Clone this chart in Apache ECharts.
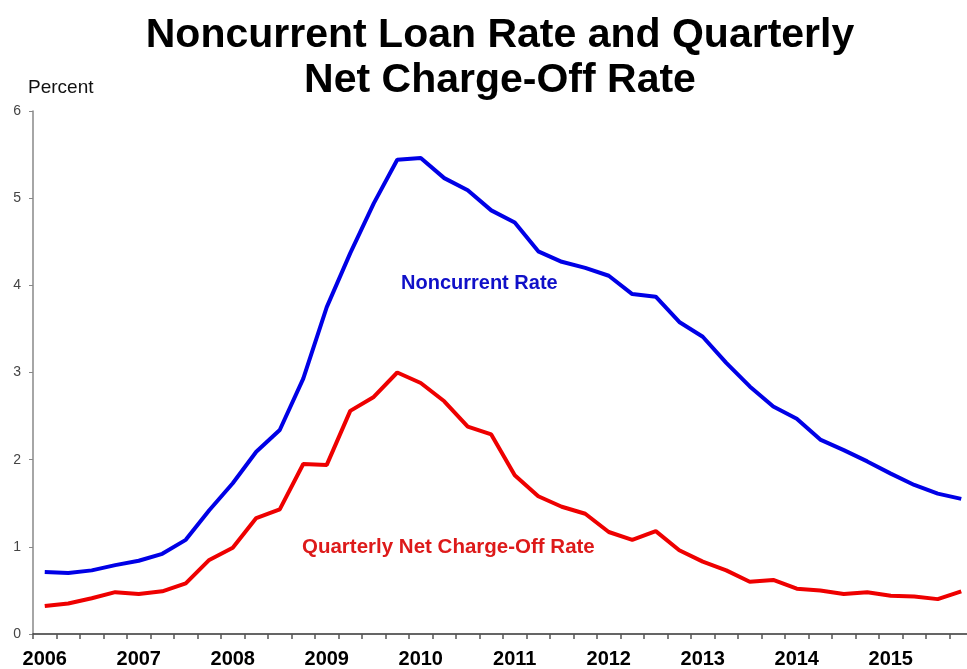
<!DOCTYPE html>
<html>
<head>
<meta charset="utf-8">
<script src="https://cdn.jsdelivr.net/npm/echarts@6/dist/echarts.min.js"></script>
<style>
  html, body { margin: 0; padding: 0; background: #ffffff; }
  #chart { width: 967px; height: 669px; }
</style>
</head>
<body>
<div id="chart"></div>
<script>
// ---- data ----
const years = ['2006','2007','2008','2009','2010','2011','2012','2013','2014','2015'];
const quarterNames = ['Q1','Q2','Q3','Q4'];
const categories = [];
years.forEach(function (y) { quarterNames.forEach(function (q) { categories.push(y + q); }); });

const noncurrentRate = [0.71,0.70,0.73,0.79,0.84,0.92,1.08,1.42,1.73,2.09,2.34,2.93,3.75,4.37,4.94,5.44,5.46,5.23,5.09,4.86,4.72,4.39,4.27,4.20,4.11,3.90,3.87,3.58,3.41,3.11,2.84,2.61,2.47,2.23,2.11,1.98,1.84,1.71,1.61,1.55];
const chargeOffRate = [0.32,0.35,0.41,0.48,0.46,0.49,0.58,0.85,0.99,1.33,1.43,1.95,1.94,2.56,2.72,3.00,2.88,2.67,2.38,2.29,1.82,1.58,1.46,1.38,1.17,1.08,1.18,0.96,0.83,0.73,0.60,0.62,0.52,0.50,0.46,0.48,0.44,0.43,0.40,0.49];

const titleText = 'Noncurrent Loan Rate and Quarterly\nNet Charge-Off Rate';
const yUnit = 'Percent';
const label1 = 'Noncurrent Rate';
const label2 = 'Quarterly Net Charge-Off Rate';

const FONT = 'Liberation Sans, Arial, sans-serif';

const chart = echarts.init(document.getElementById('chart'), null, { renderer: 'canvas' });
chart.setOption({
  backgroundColor: '#ffffff',
  animation: false,
  title: {
    text: titleText,
    left: 495,
    textAlign: 'center',
    top: 8,
    textStyle: { fontFamily: FONT, fontSize: 41, fontWeight: 'bold', color: '#000', lineHeight: 45 }
  },
  grid: { left: 33, top: 111, width: 940, height: 523, containLabel: false, outerBoundsMode: 'none' },
  xAxis: {
    type: 'category',
    data: categories,
    boundaryGap: true,
    axisLine: { lineStyle: { color: '#333', width: 1.5 } },
    axisTick: { show: true, interval: 0, length: 5, lineStyle: { color: '#555', width: 1.5 } },
    axisLabel: {
      interval: 3,
      margin: 15,
      formatter: function (v) { return v.slice(0, 4); },
      fontFamily: FONT, fontSize: 20, fontWeight: 'bold', color: '#000'
    },
    splitLine: { show: false }
  },
  yAxis: {
    type: 'value',
    min: 0, max: 6, interval: 1,
    axisLine: { show: true, lineStyle: { color: '#888', width: 1.5 } },
    axisTick: { show: true, length: 4, lineStyle: { color: '#888', width: 1 } },
    axisLabel: { margin: 12, fontFamily: FONT, fontSize: 14, color: '#444' },
    splitLine: { show: false }
  },
  graphic: [
    { type: 'text', left: 28, top: 78, style: { text: yUnit, font: '19px ' + FONT, fill: '#111' } },
    { type: 'text', left: 401, top: 273, style: { text: label1, font: 'bold 20px ' + FONT, fill: '#1010c8' } },
    { type: 'text', left: 302, top: 537, style: { text: label2, font: 'bold 20.5px ' + FONT, fill: '#dd1a1a' } }
  ],
  series: [
    {
      name: label1, type: 'line', data: noncurrentRate, symbol: 'none',
      lineStyle: { color: '#0000e6', width: 4 }
    },
    {
      name: label2, type: 'line', data: chargeOffRate, symbol: 'none',
      lineStyle: { color: '#ee0000', width: 4 }
    }
  ]
});
</script>
</body>
</html>
